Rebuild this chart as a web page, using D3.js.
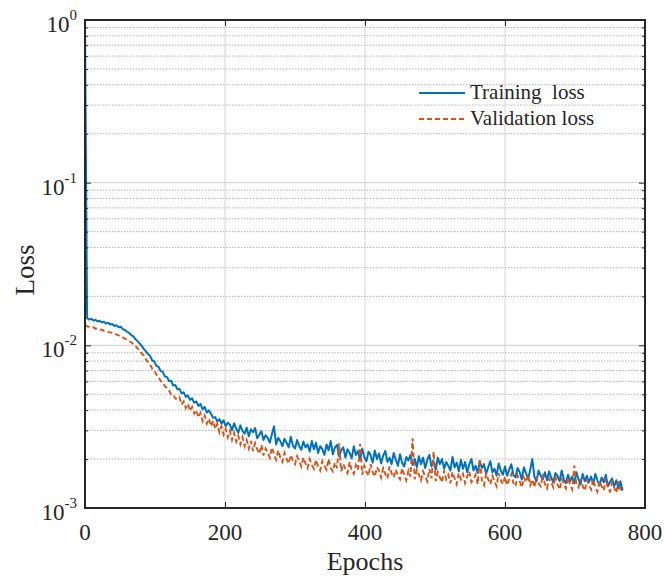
<!DOCTYPE html>
<html>
<head>
<meta charset="utf-8">
<script src="https://cdn.jsdelivr.net/npm/d3@7"></script>
<style>
  body { margin: 0; background: #fff; }
  text { font-family: "Liberation Serif", "Times New Roman", serif; fill: #262626; }
</style>
</head>
<body>
<svg id="chart" width="664" height="578"></svg>
<script>
// Loss per epoch, sampled every 3 epochs, stored in units of 1e-5
const epochStep = 3;
const lossUnit = 1e-5;

const trainingLoss = [
  85000, 1470, 1440, 1455, 1420, 1435, 1400, 1415, 1385, 1395,
  1360, 1378, 1345, 1352, 1315, 1330, 1292, 1302, 1258, 1242,
  1212, 1192, 1158, 1135, 1092, 1062, 1028, 992, 952, 918,
  882, 862, 808, 796, 748, 738, 694, 690, 644, 640,
  604, 606, 566, 570, 536, 540, 506, 514, 482, 492,
  462, 472, 444, 452, 424, 436, 404, 418, 386, 398,
  380, 358, 362, 340, 352, 330, 346, 318, 334, 326,
  300, 332, 308, 290, 322, 298, 286, 312, 276, 305,
  292, 310, 268, 282, 296, 262, 280, 270, 252, 284,
  318, 246, 270, 258, 240, 266, 252, 236, 274, 242,
  232, 262, 240, 228, 256, 236, 246, 222, 258, 230,
  252, 218, 240, 230, 212, 246, 226, 258, 214, 236,
  244, 208, 226, 236, 204, 230, 218, 202, 240, 212,
  224, 198, 232, 206, 194, 222, 212, 190, 226, 200,
  216, 188, 210, 224, 192, 204, 186, 218, 198, 182,
  214, 190, 180, 206, 196, 212, 184, 200, 178, 208,
  186, 204, 176, 198, 212, 180, 194, 172, 204, 186,
  200, 174, 192, 182, 170, 206, 178, 190, 168, 198,
  174, 192, 166, 186, 200, 170, 182, 164, 194, 176,
  186, 162, 178, 194, 166, 174, 158, 188, 170, 160,
  180, 158, 172, 186, 160, 154, 176, 166, 150, 178,
  164, 150, 172, 200, 156, 146, 170, 158, 150, 166,
  148, 168, 154, 144, 164, 158, 146, 170, 150, 142,
  160, 146, 156, 142, 166, 150, 140, 162, 146, 158,
  144, 156, 140, 162, 148, 138, 154, 144, 160, 136,
  145, 152, 136, 148, 132, 146, 128
];

const validationLoss = [
  1330, 1310, 1298, 1285, 1290, 1266, 1270, 1250, 1246, 1230,
  1226, 1210, 1200, 1192, 1175, 1166, 1150, 1136, 1120, 1100,
  1085, 1060, 1045, 1020, 990, 960, 935, 890, 865, 820,
  790, 760, 720, 700, 660, 640, 605, 592, 560, 548,
  528, 500, 498, 470, 468, 480, 432, 452, 412, 438,
  396, 418, 380, 400, 360, 384, 342, 370, 330, 354,
  318, 344, 306, 330, 292, 318, 282, 306, 272, 298,
  262, 290, 256, 278, 246, 272, 240, 262, 232, 258,
  224, 250, 230, 216, 244, 210, 232, 220, 204, 236,
  214, 198, 226, 204, 192, 218, 200, 188, 212, 196,
  186, 208, 194, 180, 204, 188, 176, 200, 184, 174,
  198, 180, 170, 194, 182, 172, 200, 176, 168, 190,
  176, 250, 168, 186, 174, 164, 192, 170, 162, 184,
  172, 248, 160, 182, 168, 158, 186, 166, 156, 178,
  170, 154, 176, 162, 152, 180, 164, 154, 172, 158,
  150, 176, 160, 148, 170, 156, 268, 150, 172, 160,
  148, 168, 156, 146, 174, 152, 222, 146, 166, 154,
  144, 170, 150, 160, 142, 166, 152, 140, 164, 150,
  162, 142, 156, 168, 144, 150, 160, 140, 200, 148,
  138, 162, 150, 140, 158, 146, 136, 164, 148, 140,
  156, 138, 150, 162, 142, 136, 158, 146, 134, 154,
  144, 160, 138, 150, 134, 156, 142, 136, 162, 140,
  132, 152, 144, 134, 158, 140, 130, 150, 142, 132,
  154, 138, 130, 182, 140, 134, 152, 136, 128, 148,
  138, 130, 150, 134, 126, 146, 136, 128, 152, 132,
  126, 144, 134, 124, 146, 130, 128
];

const xTicks = [0, 200, 400, 600, 800];
const yDecades = [-3, -2, -1, 0];
const seriesNames = ["Training  loss", "Validation loss"];
const seriesColors = ["#0072BD", "#D95319"];

const svg = d3.select("#chart");
const margin = { left: 85, top: 20, right: 19, bottom: 70 };
const W = 664, H = 578;
const x0 = margin.left, x1 = W - margin.right;
const yTop = margin.top, yBot = H - margin.bottom;

const x = d3.scaleLinear().domain([0, 800]).range([x0, x1]);
const y = d3.scaleLog().domain([1e-3, 1]).range([yBot, yTop]);

// minor log values (2..9 × 10^d) for each decade
const minorVals = [];
for (const d of yDecades.slice(0, -1)) {
  for (let k = 2; k <= 9; k++) minorVals.push(k * Math.pow(10, d));
}
const decadeVals = yDecades.map(d => Math.pow(10, d));

// grid
const grid = svg.append("g");
grid.selectAll(".vgrid").data(xTicks.slice(1, -1)).join("line")
  .attr("x1", d => x(d)).attr("x2", d => x(d))
  .attr("y1", yTop).attr("y2", yBot)
  .attr("stroke", "#d4d4d4").attr("stroke-width", 1);
grid.selectAll(".hmajor").data(decadeVals.slice(1, -1)).join("line")
  .attr("x1", x0).attr("x2", x1)
  .attr("y1", d => y(d)).attr("y2", d => y(d))
  .attr("stroke", "#cfcfcf").attr("stroke-width", 1);
grid.selectAll(".hminor").data(minorVals).join("line")
  .attr("x1", x0).attr("x2", x1)
  .attr("y1", d => y(d)).attr("y2", d => y(d))
  .attr("stroke", "#b3b3b3").attr("stroke-width", 1)
  .attr("stroke-dasharray", "1.5,1.5");

// series
const epochs = trainingLoss.map((_, i) => i * epochStep);
const line = d3.line()
  .x((d, i) => x(epochs[i]))
  .y(d => y(d * lossUnit));

svg.append("path").datum(trainingLoss)
  .attr("d", line).attr("fill", "none")
  .attr("stroke", seriesColors[0]).attr("stroke-width", 2)
  .attr("stroke-linejoin", "round");
svg.append("path").datum(validationLoss)
  .attr("d", line).attr("fill", "none")
  .attr("stroke", seriesColors[1]).attr("stroke-width", 1.9)
  .attr("stroke-dasharray", "5,3");

// axes with inward ticks on all four sides
const axisColor = "#262626";
function styleAxis(g) {
  g.select(".domain").remove();
  g.selectAll("line").attr("stroke", axisColor).attr("stroke-width", 1);
}
svg.append("g").attr("transform", `translate(0,${yBot})`)
  .call(d3.axisBottom(x).tickValues(xTicks).tickSize(-6).tickFormat(""))
  .call(styleAxis);
svg.append("g").attr("transform", `translate(0,${yTop})`)
  .call(d3.axisTop(x).tickValues(xTicks).tickSize(-6).tickFormat(""))
  .call(styleAxis);
svg.append("g").attr("transform", `translate(${x0},0)`)
  .call(d3.axisLeft(y).tickValues(decadeVals).tickSize(-6).tickFormat(""))
  .call(styleAxis);
svg.append("g").attr("transform", `translate(${x0},0)`)
  .call(d3.axisLeft(y).tickValues(minorVals).tickSize(-3).tickFormat(""))
  .call(styleAxis);
svg.append("g").attr("transform", `translate(${x1},0)`)
  .call(d3.axisRight(y).tickValues(decadeVals).tickSize(-6).tickFormat(""))
  .call(styleAxis);
svg.append("g").attr("transform", `translate(${x1},0)`)
  .call(d3.axisRight(y).tickValues(minorVals).tickSize(-3).tickFormat(""))
  .call(styleAxis);

svg.append("rect")
  .attr("x", x0).attr("y", yTop)
  .attr("width", x1 - x0).attr("height", yBot - yTop)
  .attr("fill", "none").attr("stroke", axisColor).attr("stroke-width", 2);

// tick labels
svg.selectAll(".xlab").data(xTicks).join("text")
  .attr("x", d => x(d)).attr("y", yBot + 32)
  .attr("text-anchor", "middle").attr("font-size", 23)
  .text(d => d);

const yLab = svg.selectAll(".ylab").data(yDecades).join("text")
  .attr("x", x0 - 8).attr("y", d => y(Math.pow(10, d)) + 12)
  .attr("text-anchor", "end");
yLab.append("tspan").attr("font-size", 23).text("10");
yLab.append("tspan").attr("font-size", 15).attr("dy", -12).text(d => d);

// axis titles
svg.append("text")
  .attr("x", (x0 + x1) / 2).attr("y", yBot + 62)
  .attr("text-anchor", "middle").attr("font-size", 26)
  .text("Epochs");
svg.append("text")
  .attr("transform", `translate(34,${(yTop + yBot) / 2 + 6}) rotate(-90)`)
  .attr("text-anchor", "middle").attr("font-size", 27)
  .text("Loss");

// legend
const legend = svg.append("g").attr("transform", "translate(419,0)");
const legendRows = seriesNames.map((name, i) => ({ name, color: seriesColors[i], i }));
const rowY = [99, 125];
const item = legend.selectAll("g").data(legendRows).join("g");
item.append("line")
  .attr("x1", 0).attr("x2", 46)
  .attr("y1", d => rowY[d.i] - 6).attr("y2", d => rowY[d.i] - 6)
  .attr("stroke", d => d.color).attr("stroke-width", 1.8)
  .attr("stroke-dasharray", d => d.i === 1 ? "5,3" : null);
item.append("text")
  .attr("x", 51).attr("y", d => rowY[d.i])
  .attr("font-size", 21)
  .attr("xml:space", "preserve")
  .style("white-space", "pre")
  .text(d => d.name);
</script>
</body>
</html>
